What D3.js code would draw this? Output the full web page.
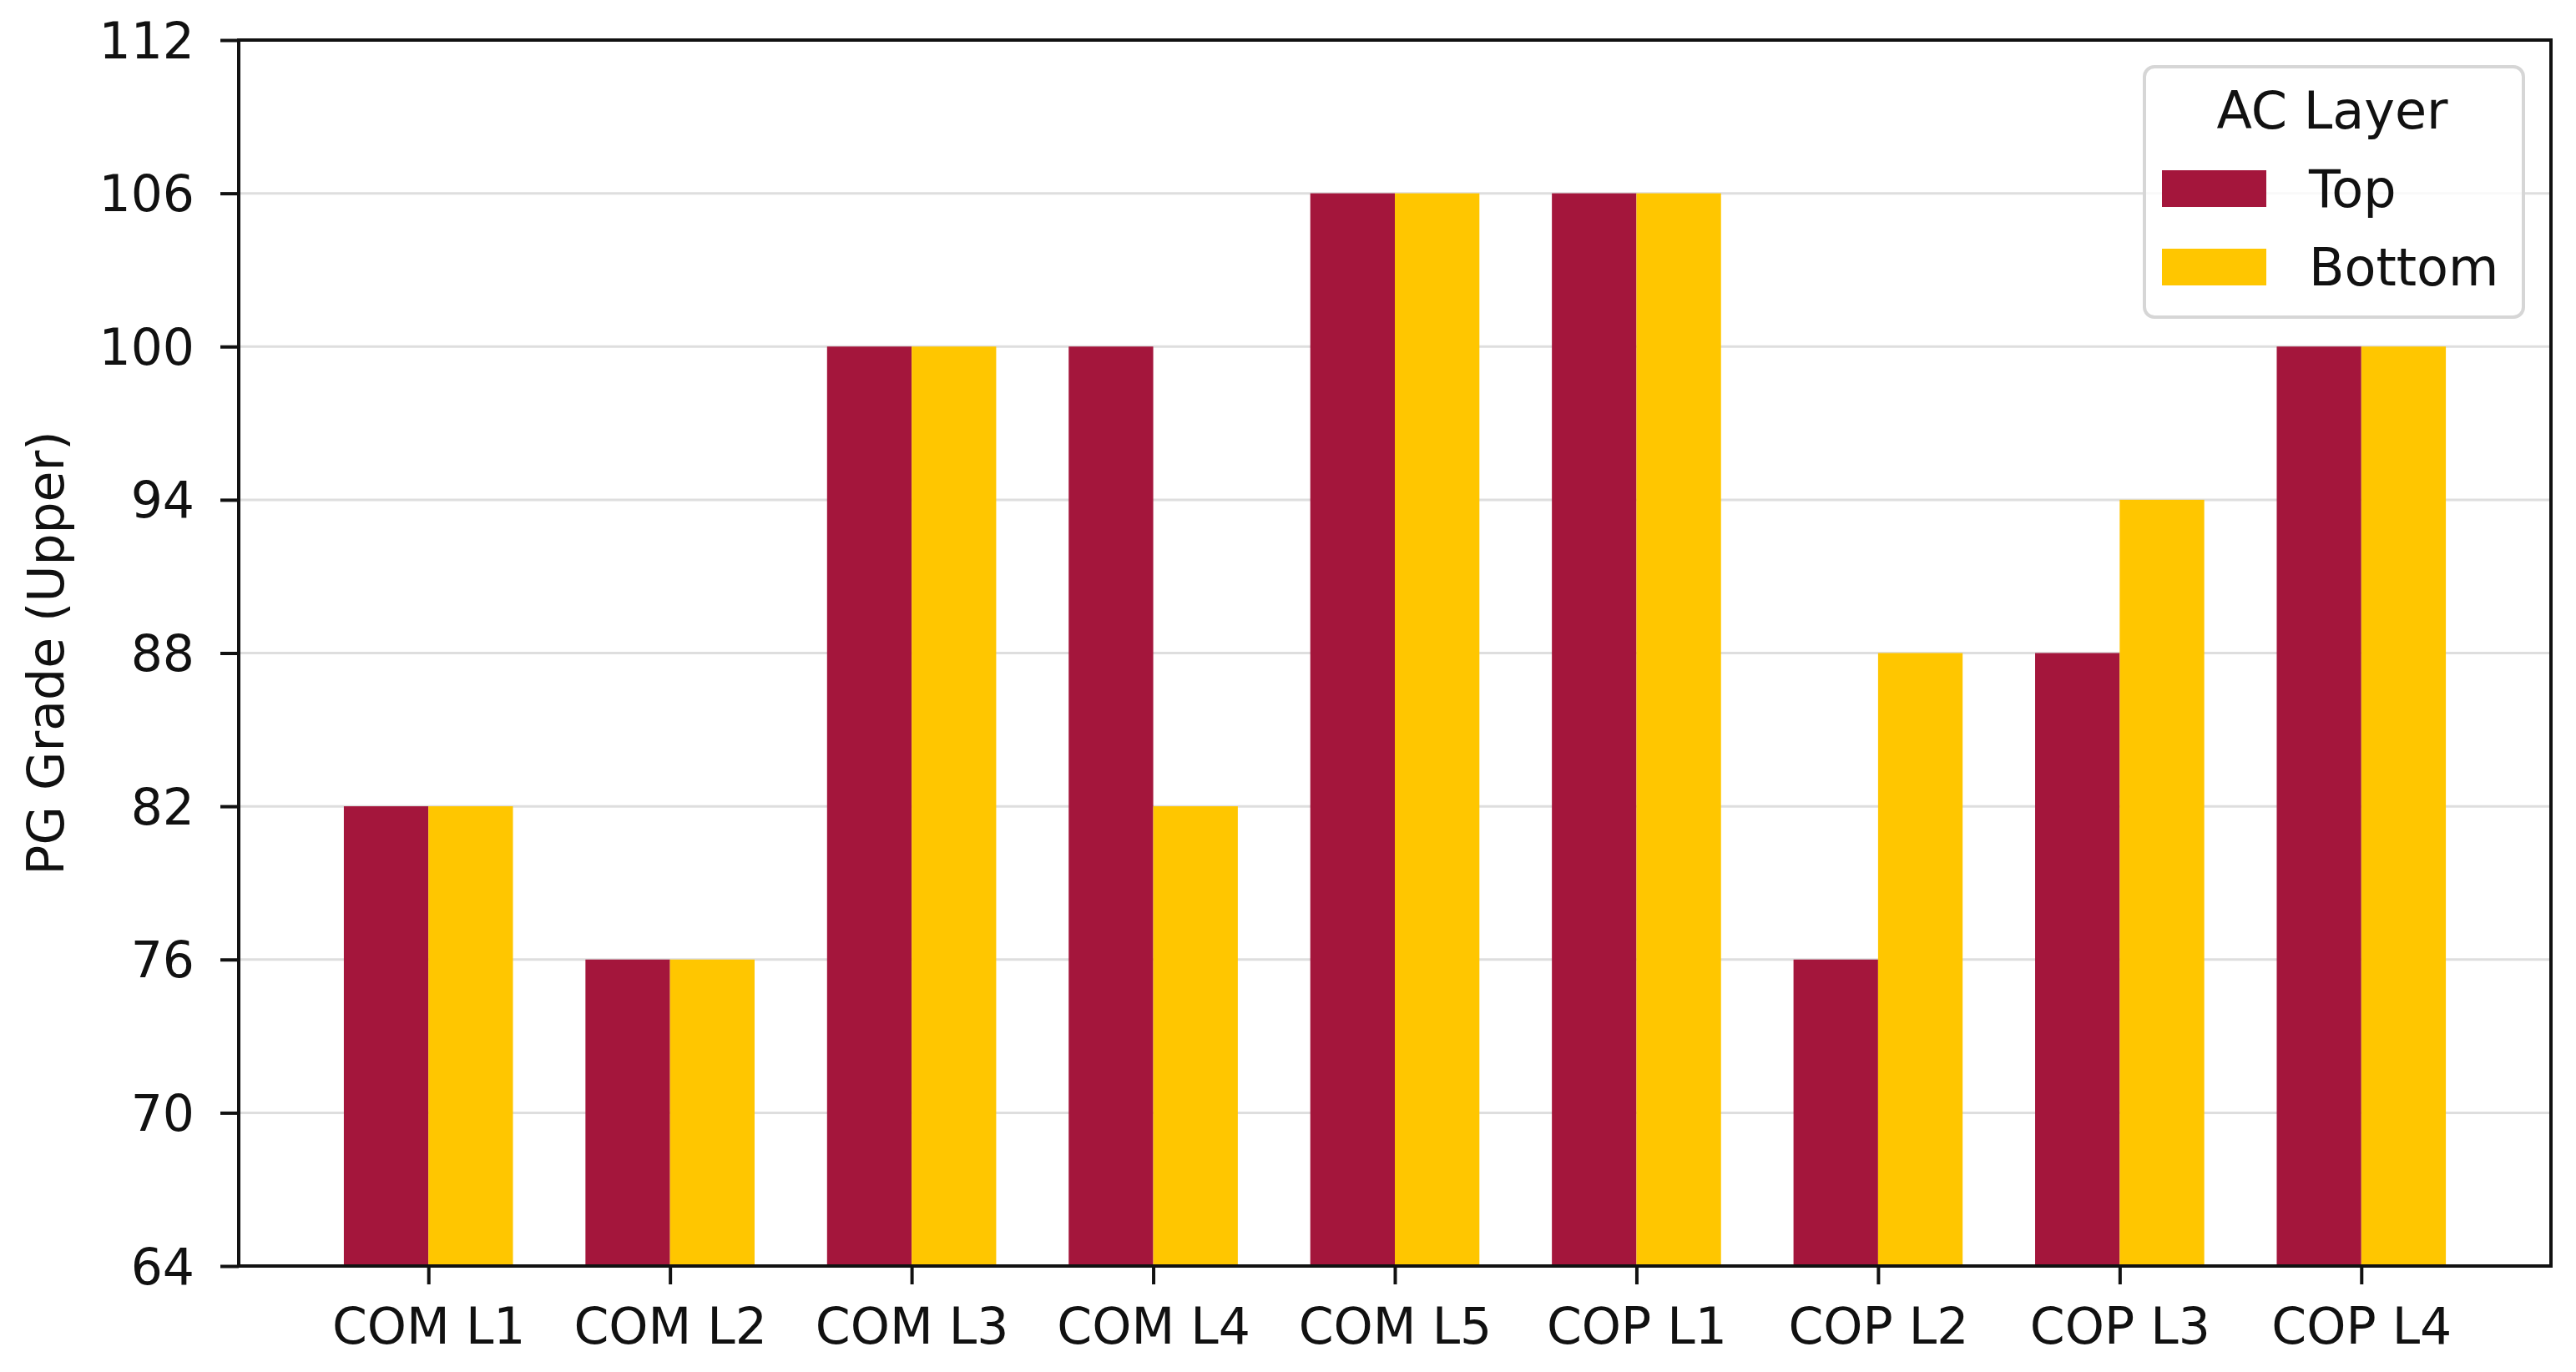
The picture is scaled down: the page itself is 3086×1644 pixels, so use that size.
<!DOCTYPE html>
<html>
<head>
<meta charset="utf-8">
<script src="https://cdn.jsdelivr.net/npm/d3@7"></script>
<style>
  html, body { margin: 0; padding: 0; background: #fff; }
  svg { display: block; font-family: "DejaVu Sans", sans-serif; }
</style>
</head>
<body>
<svg id="chart" width="3086" height="1644"></svg>
<script>
const categories = ["COM L1", "COM L2", "COM L3", "COM L4", "COM L5", "COP L1", "COP L2", "COP L3", "COP L4"];
const topValues    = [82, 76, 100, 100, 106, 106, 76, 88, 100];
const bottomValues = [82, 76, 100, 82, 106, 106, 88, 94, 100];
const seriesNames  = ["Top", "Bottom"];
const yTicks = [64, 70, 76, 82, 88, 94, 100, 106, 112];
const yLabel = "PG Grade (Upper)";
const legendTitle = "AC Layer";

(function () {
const colors = ["#A4163C", "#FFC600"];
const mLeft = 286, mRight = 3056, mTop = 48, mBottom = 1517;
const barW = 0.35;

const svg = d3.select("#chart");

const x = d3.scaleLinear().domain([-0.785, categories.length - 1 + 0.785]).range([mLeft, mRight]);
const y = d3.scaleLinear().domain([64, 112]).range([mBottom, mTop]);

// grid
svg.append("g").selectAll("line").data(yTicks.slice(1, -1)).join("line")
  .attr("x1", mLeft).attr("x2", mRight)
  .attr("y1", d => y(d)).attr("y2", d => y(d))
  .attr("stroke", "#dedede").attr("stroke-width", 3);

// bars
const series = [topValues, bottomValues];
series.forEach((vals, si) => {
  svg.append("g").selectAll("rect").data(vals).join("rect")
    .attr("x", (d, i) => x(i + (si === 0 ? -barW : 0)))
    .attr("width", (d, i) => x(i + barW) - x(i))
    .attr("y", d => y(d))
    .attr("height", d => y(64) - y(d))
    .attr("fill", colors[si]);
});

// axes frame
svg.append("rect").attr("x", mLeft).attr("y", mTop)
  .attr("width", mRight - mLeft).attr("height", mBottom - mTop)
  .attr("fill", "none").attr("stroke", "#111").attr("stroke-width", 4);

// y axis
const yAxis = d3.axisLeft(y).tickValues(yTicks).tickSize(22).tickPadding(10).tickFormat(d3.format("d"));
const gy = svg.append("g").attr("transform", `translate(${mLeft},0)`).call(yAxis);
gy.select(".domain").remove();
gy.selectAll(".tick line").attr("stroke", "#111").attr("stroke-width", 4);
gy.selectAll(".tick text").attr("font-size", 60).attr("fill", "#111")
  .attr("font-family", "DejaVu Sans").attr("x", -53).attr("dy", "0.35em");

// x axis
const xAxis = d3.axisBottom(x).tickValues(d3.range(categories.length)).tickSize(22).tickPadding(10)
  .tickFormat(i => categories[i]);
const gx = svg.append("g").attr("transform", `translate(0,${mBottom})`).call(xAxis);
gx.select(".domain").remove();
gx.selectAll(".tick line").attr("stroke", "#111").attr("stroke-width", 4);
gx.selectAll(".tick text").attr("font-size", 60).attr("fill", "#111")
  .attr("font-family", "DejaVu Sans").attr("y", 93).attr("dy", 0);

// y label
svg.append("text")
  .attr("transform", `translate(76,${(mTop + mBottom) / 2}) rotate(-90)`)
  .attr("text-anchor", "middle")
  .attr("font-size", 60).attr("fill", "#111")
  .text(yLabel);

// legend
const lg = svg.append("g");
lg.append("rect").attr("x", 2569).attr("y", 80).attr("width", 454).attr("height", 300)
  .attr("rx", 12).attr("ry", 12)
  .attr("fill", "#fff").attr("fill-opacity", 0.8)
  .attr("stroke", "#d6d6d6").attr("stroke-width", 4);
lg.append("text").attr("x", 2794).attr("y", 154).attr("text-anchor", "middle")
  .attr("font-size", 62).attr("fill", "#111").text(legendTitle);
seriesNames.forEach((name, i) => {
  const yy = 204 + i * 94;
  lg.append("rect").attr("x", 2590).attr("y", yy).attr("width", 125).attr("height", 44).attr("fill", colors[i]);
  lg.append("text").attr("x", 2766).attr("y", yy + 44).attr("font-size", 62).attr("fill", "#111").text(name);
});
})();
</script>
</body>
</html>
